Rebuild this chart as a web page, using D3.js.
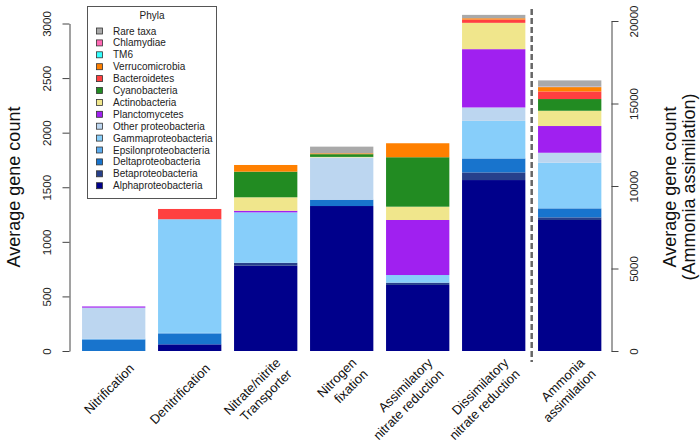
<!DOCTYPE html>
<html><head><meta charset="utf-8">
<script src="https://cdn.jsdelivr.net/npm/d3@7"></script>
<style>body{margin:0;background:#fff}svg{display:block;font-family:"Liberation Sans",Arial,Helvetica,sans-serif}</style>
</head><body><svg id="c" width="700" height="448"></svg>
<script>
// ---------- data ----------
const categories = ["Nitrification","Denitrification","Nitrate/nitrite Transporter","Nitrogen fixation","Assimilatory nitrate reduction","Dissimilatory nitrate reduction","Ammonia assimilation"];
const categoryLabels = [["Nitrification"],["Denitrification"],["Nitrate/nitrite","Transporter"],["Nitrogen","fixation"],["Assimilatory","nitrate reduction"],["Dissimilatory","nitrate reduction"],["Ammonia","assimilation"]];
// stack order, bottom to top
const phyla = ["Alphaproteobacteria","Betaproteobacteria","Deltaproteobacteria","Epsilonproteobacteria","Gammaproteobacteria","Other proteobacteria","Planctomycetes","Actinobacteria","Cyanobacteria","Bacteroidetes","Verrucomicrobia","TM6","Chlamydiae","Rare taxa"];
const phylaColors = ["#00008B","#27408B","#1874CD","#5CACEE","#87CEFA","#BCD6F0","#A020F0","#F0E68C","#228B22","#FF4040","#FF8000","#33FFFF","#FF69B4","#A9A9A9"];
const alphaproteobacteria   = [0, 61, 781, 1328, 605, 1566, 7940];
const betaproteobacteria    = [0, 0, 27, 0, 21, 70, 160];
const deltaproteobacteria   = [105, 100, 0, 58, 0, 128, 545];
const epsilonproteobacteria = [8, 5, 0, 0, 0, 0, 0];
const gammaproteobacteria   = [0, 1041, 462, 0, 70, 344, 2765];
const otherProteobacteria   = [284, 0, 0, 387, 0, 123, 605];
const planctomycetes        = [11, 0, 15, 0, 504, 534, 1620];
const actinobacteria        = [0, 0, 123, 5, 122, 241, 925];
const cyanobacteria         = [0, 0, 235, 25, 453, 0, 710];
const bacteroidetes         = [0, 94, 0, 0, 0, 30, 460];
const verrucomicrobia       = [0, 0, 61, 8, 128, 12, 265];
const tm6                   = [0, 0, 0, 0, 0, 0, 20];
const chlamydiae            = [0, 0, 0, 0, 0, 0, 20];
const rareTaxa              = [0, 0, 0, 61, 0, 31, 365];
const leftTicks  = [0, 500, 1000, 1500, 2000, 2500, 3000];
const rightTicks = [0, 5000, 10000, 15000, 20000];

const seriesValues = [alphaproteobacteria, betaproteobacteria, deltaproteobacteria, epsilonproteobacteria,
  gammaproteobacteria, otherProteobacteria, planctomycetes, actinobacteria, cyanobacteria, bacteroidetes,
  verrucomicrobia, tm6, chlamydiae, rareTaxa];

// ---------- chart ----------
const svg = d3.select("#c");
const rows = categories.map((c, i) => {
  const o = {cat: c};
  phyla.forEach((p, j) => o[p] = seriesValues[j][i]);
  return o;
});
const stacked = d3.stack().keys(phyla)(rows);
const color = d3.scaleOrdinal(phyla, phylaColors);

const x = d3.scaleBand().domain(categories).range([75.7, 607.7]).paddingInner(12.7/76).paddingOuter(6.35/76);
const yL = d3.scaleLinear().domain([0, 3000]).range([351, 23.5]);
const yR = d3.scaleLinear().domain([0, 20000]).range([351, 21]);
const rightCat = categories[6];
const yFor = c => c === rightCat ? yR : yL;

// bars
const g = svg.append("g");
stacked.forEach(s => {
  g.append("g").attr("fill", color(s.key))
    .selectAll("rect").data(s.filter(d => d[1] - d[0] > 0)).join("rect")
    .attr("x", d => x(d.data.cat))
    .attr("width", x.bandwidth())
    .attr("y", d => yFor(d.data.cat)(d[1]))
    .attr("height", d => yFor(d.data.cat)(d[0]) - yFor(d.data.cat)(d[1]));
});

// left axis
const axL = svg.append("g").attr("transform", "translate(69.5,0)")
  .call(d3.axisLeft(yL).tickValues(leftTicks).tickSize(7).tickSizeOuter(0).tickFormat(d3.format("d")));
axL.selectAll("path,line").attr("stroke", "#444");
axL.selectAll("text").attr("x", null).attr("dy", "0.35em")
  .attr("transform", "translate(-23,0) rotate(-90)").attr("text-anchor", "middle")
  .attr("font-size", 11.5).attr("fill", "#222").attr("font-family", "Liberation Sans, Arial, sans-serif");

// right axis
const axR = svg.append("g").attr("transform", "translate(611.5,0)")
  .call(d3.axisRight(yR).tickValues(rightTicks).tickSize(7).tickSizeOuter(0).tickFormat(d3.format("d")));
axR.selectAll("path,line").attr("stroke", "#444");
axR.selectAll("text").attr("x", null).attr("dy", "0.35em")
  .attr("transform", "translate(22,0) rotate(-90)").attr("text-anchor", "middle")
  .attr("font-size", 11.5).attr("fill", "#222").attr("font-family", "Liberation Sans, Arial, sans-serif");

// axis titles
svg.append("text").attr("transform", "translate(14,187) rotate(-90)").attr("dy", "0.35em")
  .attr("text-anchor", "middle").attr("font-size", 18).attr("fill", "#111").text("Average gene count");
svg.append("text").attr("transform", "translate(670,187) rotate(-90)").attr("dy", "0.35em")
  .attr("text-anchor", "middle").attr("font-size", 18).attr("fill", "#111").text("Average gene count");
svg.append("text").attr("transform", "translate(689,187) rotate(-90)").attr("dy", "0.35em")
  .attr("text-anchor", "middle").attr("font-size", 18).attr("fill", "#111").text("(Ammonia assimilation)");

// dashed separator
const sepX = x(rightCat) - (x.step() - x.bandwidth()) / 2;
svg.append("line").attr("x1", sepX).attr("x2", sepX).attr("y1", 9).attr("y2", 362)
  .attr("stroke", "#666").attr("stroke-width", 2.5).attr("stroke-dasharray", "6,3");

// x labels (rotated 45°, right-justified, block centred on anchor)
const lh = 16, s2 = Math.SQRT1_2;
categories.forEach((c, i) => {
  const cx = x(c) + x.bandwidth() / 2 + 18, cy = 366;
  const lines = categoryLabels[i];
  lines.forEach((t, j) => {
    const k = (j - (lines.length - 1) / 2) * lh;
    svg.append("text")
      .attr("transform", `translate(${cx + k * s2},${cy + k * s2}) rotate(-45)`)
      .attr("text-anchor", "end").attr("dy", "0.35em")
      .attr("font-size", 13).attr("fill", "#111").text(t);
  });
});

// legend
const lg = svg.append("g");
lg.append("rect").attr("x", 87.5).attr("y", 6.5).attr("width", 129).attr("height", 192)
  .attr("fill", "#fff").attr("stroke", "#555").attr("stroke-width", 1);
lg.append("text").attr("x", 152).attr("y", 15.5).attr("dy", "0.35em").attr("text-anchor", "middle")
  .attr("font-size", 10).attr("fill", "#222").text("Phyla");
const legendOrder = phyla.slice().reverse();
legendOrder.forEach((p, i) => {
  const yy = 31 + i * 11.9;
  lg.append("rect").attr("x", 96.5).attr("y", yy - 3).attr("width", 6).attr("height", 6)
    .attr("fill", color(p)).attr("stroke", "#333").attr("stroke-width", 0.8);
  lg.append("text").attr("x", 113).attr("y", yy).attr("dy", "0.35em")
    .attr("font-size", 10).attr("fill", "#222").text(p);
});
</script></body></html>
